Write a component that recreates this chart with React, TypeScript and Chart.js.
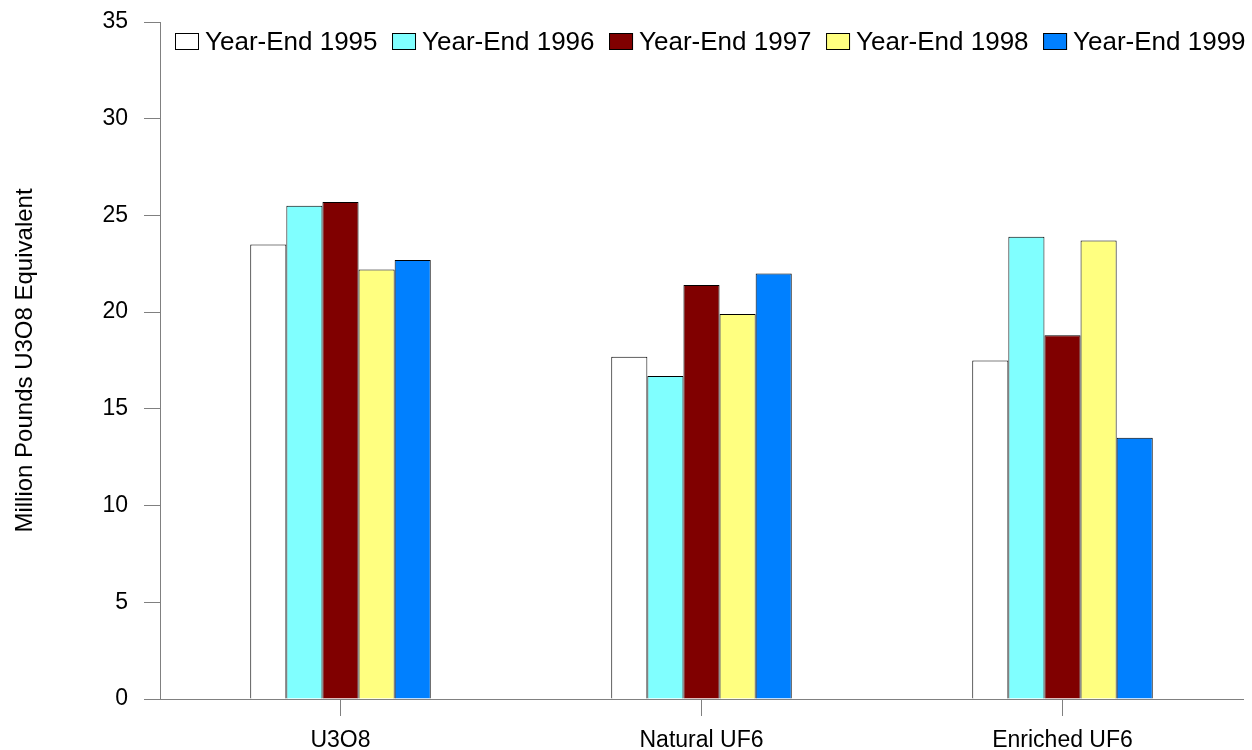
import React, { useEffect, useRef } from "react";
import { Chart, registerables } from "chart.js";

Chart.register(...registerables);

const categories = ["U3O8", "Natural UF6", "Enriched UF6"];
const seriesLabels = ["Year-End 1995", "Year-End 1996", "Year-End 1997", "Year-End 1998", "Year-End 1999"];
const ye1995 = [23.5, 17.7, 17.5];
const ye1996 = [25.5, 16.7, 23.9];
const ye1997 = [25.7, 21.4, 18.8];
const ye1998 = [22.2, 19.9, 23.7];
const ye1999 = [22.7, 22.0, 13.5];
const seriesColors = ["#FFFFFF", "#80FFFF", "#800000", "#FFFF80", "#0080FF"];
const yTitle = "Million Pounds U3O8 Equivalent";

const FONT = "Arial, 'Liberation Sans', Helvetica, sans-serif";

const insideLegend = {
  id: "insideLegend",
  afterDraw(chart: any) {
    const ctx = chart.ctx;
    const area = chart.chartArea;
    let x = area.left + 15;
    const boxW = 24;
    const boxH = 17;
    const boxY = 33;
    ctx.save();
    ctx.font = `26px ${FONT}`;
    ctx.textBaseline = "middle";
    ctx.textAlign = "left";
    chart.data.datasets.forEach((ds: any) => {
      ctx.fillStyle = ds.backgroundColor;
      ctx.fillRect(x, boxY, boxW, boxH);
      ctx.strokeStyle = "#000";
      ctx.lineWidth = 1;
      ctx.strokeRect(x + 0.5, boxY + 0.5, boxW - 1, boxH - 1);
      ctx.fillStyle = "#000";
      const tx = x + boxW + 6;
      ctx.fillText(ds.label, tx, boxY + boxH / 2 + 1);
      x = tx + ctx.measureText(ds.label).width + 14.5;
    });
    ctx.restore();
  },
};

export default function App() {
  const ref = useRef<HTMLCanvasElement | null>(null);
  useEffect(() => {
    if (!ref.current) return;
    const values = [ye1995, ye1996, ye1997, ye1998, ye1999];
    const chart = new Chart(ref.current, {
      type: "bar",
      data: {
        labels: categories,
        datasets: values.map((v, i) => ({
          label: seriesLabels[i],
          data: v,
          backgroundColor: seriesColors[i],
          borderColor: "#000000",
          borderWidth: 1,
          categoryPercentage: 0.5,
          barPercentage: 1,
        })),
      },
      options: {
        responsive: false,
        animation: false,
        devicePixelRatio: 1,
        layout: { padding: { top: 22, right: 9, left: 0, bottom: 0 } },
        plugins: {
          legend: { display: false },
          tooltip: { enabled: false },
        },
        scales: {
          x: {
            grid: {
              display: true,
              drawOnChartArea: false,
              drawTicks: true,
              tickLength: 17,
              color: "#808080",
              offset: false,
            },
            border: { color: "#808080", width: 1 },
            ticks: { font: { size: 23, family: FONT }, color: "#000", padding: 11 },
            afterFit: (s: any) => {
              s.height = 51;
              s.paddingLeft = 0;
              s.paddingRight = 0;
            },
          },
          y: {
            min: 0,
            max: 35,
            grid: {
              display: true,
              drawOnChartArea: false,
              drawTicks: true,
              tickLength: 16,
              color: "#808080",
            },
            border: { color: "#808080", width: 1 },
            ticks: { stepSize: 5, font: { size: 23, family: FONT }, color: "#000", padding: 16 },
            title: {
              display: true,
              text: yTitle,
              font: { size: 24, family: FONT },
              color: "#000",
              padding: { top: 11, bottom: 0 },
            },
            afterFit: (s: any) => {
              s.width = 160;
              s.paddingTop = 0;
              s.paddingBottom = 0;
            },
          },
        },
      },
      plugins: [insideLegend],
    });
    return () => chart.destroy();
  }, []);
  return (
    <div style={{ position: "absolute", left: 0, top: 0, width: 1252, height: 750, background: "#fff" }}>
      <canvas ref={ref} width={1252} height={750} style={{ display: "block" }} />
    </div>
  );
}
